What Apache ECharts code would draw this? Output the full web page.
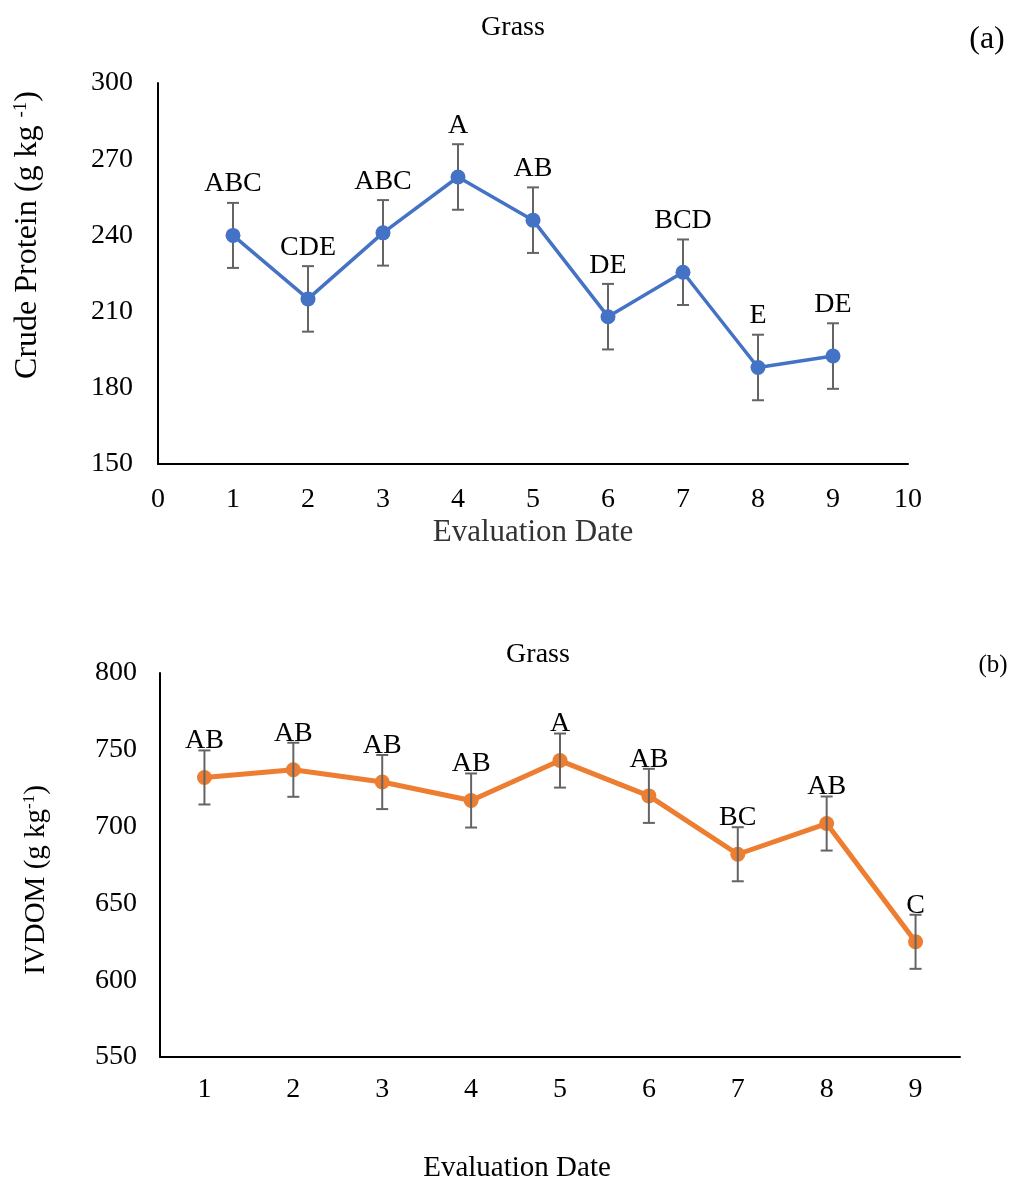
<!DOCTYPE html>
<html>
<head>
<meta charset="utf-8">
<title>Grass – Crude Protein and IVDOM by Evaluation Date</title>
<script src="https://cdn.jsdelivr.net/npm/echarts@6/dist/echarts.min.js"></script>
<style>
  html, body { margin: 0; padding: 0; background: #ffffff; }
  #chart { width: 1011px; height: 1182px; }
</style>
</head>
<body>
<div id="chart"></div>
<script>
// Evaluation dates (x positions) shared by both panels
const evalDates = [1, 2, 3, 4, 5, 6, 7, 8, 9];

// Panel (a): crude protein, g kg-1
const cpMeans = [240, 215, 241, 263, 246, 208, 225.5, 188, 192.5];
const cpErrors = [12.8, 12.9, 12.9, 12.9, 12.9, 12.9, 12.9, 12.9, 12.9];
const cpLetters = ['ABC', 'CDE', 'ABC', 'A', 'AB', 'DE', 'BCD', 'E', 'DE'];
const cpTicks = [150, 180, 210, 240, 270, 300];

// Panel (b): in vitro digestible organic matter, g kg-1
const ivdomMeans = [732, 737, 729, 717, 743, 720, 682, 702, 625];
const ivdomErrors = [17.6, 17.6, 17.6, 17.6, 17.6, 17.6, 17.6, 17.6, 17.6];
const ivdomLetters = ['AB', 'AB', 'AB', 'AB', 'A', 'AB', 'BC', 'AB', 'C'];
const ivdomTicks = [550, 600, 650, 700, 750, 800];

const FONT = "'Liberation Serif', 'Times New Roman', serif";
const BLUE = '#4472C4';
const ORANGE = '#ED7D31';
const BAR_GREY = '#646464';

// Vertical error bar with caps, drawn from [x, mean, error]
function errorBar(params, api) {
  const x = api.value(0), y = api.value(1), e = api.value(2);
  const hi = api.coord([x, y + e]);
  const lo = api.coord([x, y - e]);
  const cap = 6;
  const st = { stroke: BAR_GREY, lineWidth: 2 };
  return {
    type: 'group',
    children: [
      { type: 'line', shape: { x1: hi[0], y1: hi[1], x2: lo[0], y2: lo[1] }, style: st },
      { type: 'line', shape: { x1: hi[0] - cap, y1: hi[1], x2: hi[0] + cap, y2: hi[1] }, style: st },
      { type: 'line', shape: { x1: lo[0] - cap, y1: lo[1], x2: lo[0] + cap, y2: lo[1] }, style: st }
    ]
  };
}

const cpPoints = evalDates.map((d, i) => [d, cpMeans[i]]);
const cpBars = evalDates.map((d, i) => [d, cpMeans[i], cpErrors[i]]);
const ivdomBars = evalDates.map((d, i) => [i, ivdomMeans[i], ivdomErrors[i]]);

const axisText = { fontFamily: FONT, fontSize: 28, color: '#000' };
const blackLine = { show: true, lineStyle: { color: '#000', width: 2 } };

const chart = echarts.init(document.getElementById('chart'), null, { renderer: 'canvas' });

chart.setOption({
  backgroundColor: '#ffffff',
  animation: false,
  grid: [
    { left: 158, top: 83, width: 750, height: 381 },
    { left: 160, top: 673, width: 800, height: 384 }
  ],
  xAxis: [
    {
      gridIndex: 0, type: 'value', min: 0, max: 10, interval: 1,
      axisLine: blackLine, axisTick: { show: false }, splitLine: { show: false },
      axisLabel: Object.assign({ margin: 22 }, axisText),
      name: 'Evaluation Date', nameLocation: 'middle', nameGap: 53,
      nameTextStyle: { fontFamily: FONT, fontSize: 31, color: '#333' }
    },
    {
      gridIndex: 1, type: 'category', data: evalDates.map(String), boundaryGap: true,
      axisLine: blackLine, axisTick: { show: false }, splitLine: { show: false },
      axisLabel: Object.assign({ margin: 19 }, axisText)
    }
  ],
  yAxis: [
    {
      gridIndex: 0, type: 'value', min: cpTicks[0], max: cpTicks[cpTicks.length - 1], interval: 30,
      axisLine: blackLine, axisTick: { show: false }, splitLine: { show: false },
      axisLabel: Object.assign({ margin: 25 }, axisText)
    },
    {
      gridIndex: 1, type: 'value', min: ivdomTicks[0], max: ivdomTicks[ivdomTicks.length - 1], interval: 50,
      axisLine: blackLine, axisTick: { show: false }, splitLine: { show: false },
      axisLabel: Object.assign({ margin: 23 }, axisText)
    }
  ],
  graphic: [
    { type: 'text', x: 513, y: 28, style: { text: 'Grass', font: '28px ' + FONT, fill: '#000', textAlign: 'center', textVerticalAlign: 'middle' } },
    { type: 'text', x: 987, y: 40, style: { text: '(a)', font: '32px ' + FONT, fill: '#000', textAlign: 'center', textVerticalAlign: 'middle' } },
    { type: 'text', x: 538, y: 655, style: { text: 'Grass', font: '28px ' + FONT, fill: '#000', textAlign: 'center', textVerticalAlign: 'middle' } },
    { type: 'text', x: 993, y: 665, style: { text: '(b)', font: '25px ' + FONT, fill: '#000', textAlign: 'center', textVerticalAlign: 'middle' } },
    { type: 'text', x: 517, y: 1168, style: { text: 'Evaluation Date', font: '29px ' + FONT, fill: '#000', textAlign: 'center', textVerticalAlign: 'middle' } },
    {
      type: 'text', x: 28, y: 235, rotation: Math.PI / 2,
      style: {
        text: '{m|Crude Protein (g kg }{s|-1}{m|)}',
        textAlign: 'center', textVerticalAlign: 'middle', fill: '#000',
        rich: {
          m: { fontFamily: FONT, fontSize: 32, color: '#000' },
          s: { fontFamily: FONT, fontSize: 19, color: '#000', verticalAlign: 'top' }
        }
      }
    },
    {
      type: 'text', x: 36, y: 880, rotation: Math.PI / 2,
      style: {
        text: '{m|IVDOM (g kg}{s|-1}{m|)}',
        textAlign: 'center', textVerticalAlign: 'middle', fill: '#000',
        rich: {
          m: { fontFamily: FONT, fontSize: 29, color: '#000' },
          s: { fontFamily: FONT, fontSize: 17, color: '#000', verticalAlign: 'top' }
        }
      }
    }
  ],
  series: [
    {
      type: 'custom', xAxisIndex: 0, yAxisIndex: 0, renderItem: errorBar,
      data: cpBars, encode: { x: 0, y: 1 }, z: 2
    },
    {
      type: 'line', xAxisIndex: 0, yAxisIndex: 0, data: cpPoints,
      symbol: 'circle', symbolSize: 15,
      lineStyle: { color: BLUE, width: 3.5 }, itemStyle: { color: BLUE },
      label: {
        show: true, position: 'top', distance: 30,
        fontFamily: FONT, fontSize: 28, color: '#000',
        formatter: p => cpLetters[p.dataIndex]
      },
      z: 3
    },
    {
      type: 'custom', xAxisIndex: 1, yAxisIndex: 1, renderItem: errorBar,
      data: ivdomBars, encode: { x: 0, y: 1 }, z: 4
    },
    {
      type: 'line', xAxisIndex: 1, yAxisIndex: 1, data: ivdomMeans,
      symbol: 'circle', symbolSize: 15,
      lineStyle: { color: ORANGE, width: 5 }, itemStyle: { color: ORANGE },
      label: {
        show: true, position: 'top', distance: 15,
        fontFamily: FONT, fontSize: 28, color: '#000',
        formatter: p => ivdomLetters[p.dataIndex]
      },
      z: 3
    }
  ]
});
</script>
</body>
</html>
